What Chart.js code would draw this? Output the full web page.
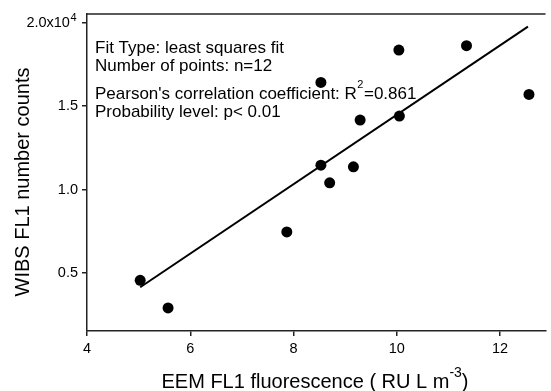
<!DOCTYPE html>
<html>
<head>
<meta charset="utf-8">
<script src="https://cdn.jsdelivr.net/npm/chart.js@4.4.0/dist/chart.umd.min.js"></script>
<style>
  html, body { margin: 0; padding: 0; background: #fff; }
</style>
</head>
<body>
<canvas id="grafico" width="551" height="391"></canvas>
<script>
// EEM FL1 fluorescence vs WIBS FL1 counts
const fluorescence = [5.03, 5.57, 7.87, 8.53, 8.53, 8.70, 9.16, 9.29, 10.04, 10.05, 11.35, 12.56];
const counts = [4560, 2900, 7460, 11460, 16420, 10400, 11360, 14160, 18360, 14400, 18620, 15700];

// least squares fit line, end points
const fitX = [5.03, 12.54];
const fitY = [4140, 19760];

const xTicks = [4, 6, 8, 10, 12];
const yTicks = [5000, 10000, 15000, 20000];

const statLines = [
  'Fit Type: least squares fit',
  'Number of points: n=12',
  "Pearson's correlation coefficient: R",
  'Probability level: p< 0.01'
];
const rSquared = '=0.861';

const FONT = '"Liberation Sans", Arial, sans-serif';
const AXIS = '#222';
const FIG_SPACE = '\u2007';

const extras = {
  id: 'extras',
  afterDraw(chart) {
    const ctx = chart.ctx;
    const a = chart.chartArea;
    ctx.save();

    // top frame line
    ctx.strokeStyle = AXIS;
    ctx.lineWidth = 1.5;
    ctx.beginPath();
    ctx.moveTo(a.left - 0.75, a.top);
    ctx.lineTo(a.right, a.top);
    ctx.stroke();

    // exponent of the top y tick label
    const ys = chart.scales.y;
    ctx.font = '14.5px ' + FONT;
    const wf = ctx.measureText(FIG_SPACE).width;
    ctx.fillStyle = '#000';
    ctx.textAlign = 'left';
    ctx.textBaseline = 'alphabetic';
    ctx.font = '11px ' + FONT;
    ctx.fillText('4', ys.right - 9 - wf + 0.5, ys.getPixelForValue(20000) - 2);

    // fit statistics text
    ctx.font = '17px ' + FONT;
    const base = [53, 71, 99, 117];
    statLines.forEach((t, i) => ctx.fillText(t, 95, base[i]));
    let w = ctx.measureText(statLines[2]).width;
    ctx.font = '11px ' + FONT;
    ctx.fillText('2', 95 + w + 0.5, base[2] - 11);
    const w2 = ctx.measureText('2').width;
    ctx.font = '17px ' + FONT;
    ctx.fillText(rSquared, 95 + w + w2 + 1, base[2]);

    // x title with superscript
    const xt1 = 'EEM FL1 fluorescence ( RU L m';
    const xsup = '-3';
    const xt2 = ')';
    ctx.font = '20px ' + FONT;
    const w1 = ctx.measureText(xt1).width;
    const w3 = ctx.measureText(xt2).width;
    ctx.font = '14px ' + FONT;
    const ws = ctx.measureText(xsup).width;
    let x0 = 315 - (w1 + ws + w3) / 2;
    const yb = 388;
    ctx.font = '20px ' + FONT;
    ctx.fillText(xt1, x0, yb);
    ctx.font = '14px ' + FONT;
    ctx.fillText(xsup, x0 + w1, yb - 11);
    ctx.font = '20px ' + FONT;
    ctx.fillText(xt2, x0 + w1 + ws, yb);

    // y title
    ctx.translate(28.5, 182);
    ctx.rotate(-Math.PI / 2);
    ctx.textAlign = 'center';
    ctx.fillText('WIBS FL1 number counts', 0, 0);

    ctx.restore();
  }
};

const ctx = document.getElementById('grafico').getContext('2d');

new Chart(ctx, {
  type: 'scatter',
  data: {
    datasets: [{
      label: 'samples',
      data: fluorescence.map((v, i) => ({ x: v, y: counts[i] })),
      backgroundColor: '#000',
      borderColor: '#000',
      borderWidth: 0,
      pointRadius: 5.5,
      pointHoverRadius: 5.5
    }, {
      label: 'fit',
      data: fitX.map((v, i) => ({ x: v, y: fitY[i] })),
      showLine: true,
      borderColor: '#000',
      borderWidth: 2,
      pointRadius: 0,
      fill: false
    }]
  },
  options: {
    responsive: false,
    animation: false,
    devicePixelRatio: 1,
    layout: { padding: { top: 14, right: 0, bottom: 0, left: 0 } },
    plugins: {
      legend: { display: false },
      tooltip: { enabled: false }
    },
    scales: {
      x: {
        type: 'linear',
        min: 4,
        max: 12.88,
        afterBuildTicks: s => { s.ticks = xTicks.map(v => ({ value: v })); },
        afterFit: s => { s.height = 60; },
        grid: { drawOnChartArea: false, tickLength: 5, color: AXIS, lineWidth: 1.5 },
        border: { color: AXIS, width: 1.5 },
        ticks: {
          color: '#000',
          font: { family: FONT, size: 14.5 },
          padding: 4,
          maxRotation: 0,
          autoSkip: false,
          callback: v => String(v)
        }
      },
      y: {
        type: 'linear',
        min: 1520,
        max: 20520,
        afterBuildTicks: s => { s.ticks = yTicks.map(v => ({ value: v })); },
        afterFit: s => { s.width = 87; },
        grid: { drawOnChartArea: false, tickLength: 5, color: AXIS, lineWidth: 1.5 },
        border: { color: AXIS, width: 1.5 },
        ticks: {
          color: '#000',
          font: { family: FONT, size: 14.5 },
          padding: 4,
          autoSkip: false,
          callback: v => v === 20000 ? '2.0x10' + FIG_SPACE : (v / 10000).toFixed(1)
        }
      }
    }
  },
  plugins: [extras]
});
</script>
</body>
</html>
